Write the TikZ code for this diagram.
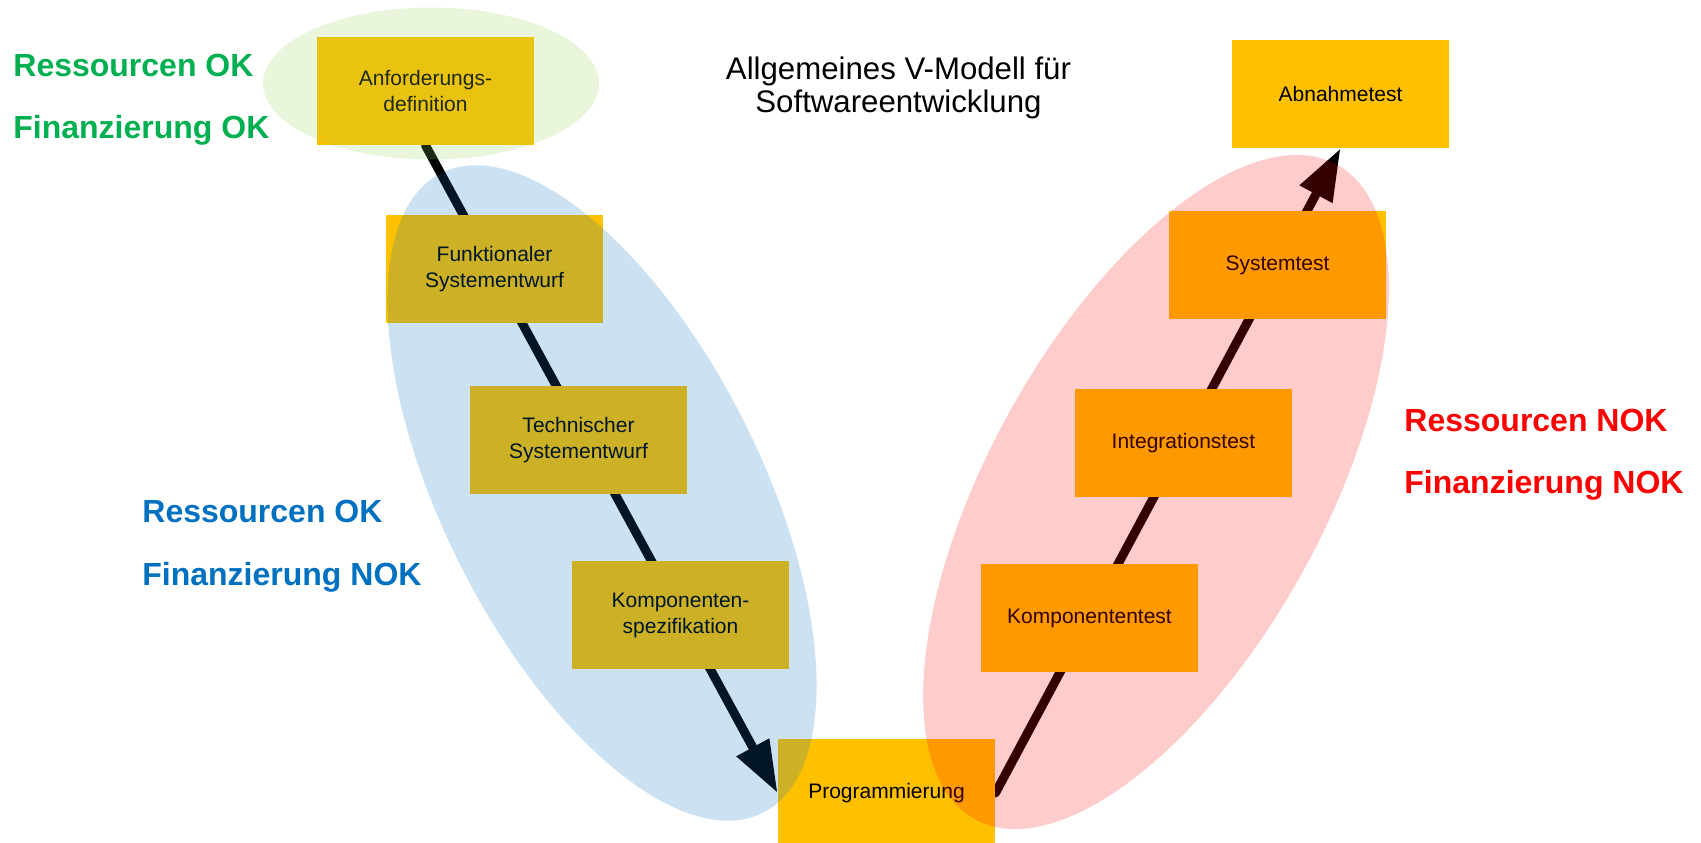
\documentclass[tikz,border=0pt]{standalone}
\usepackage{fontspec}
\setmainfont{Liberation Sans}
\usetikzlibrary{arrows.meta, backgrounds}
\definecolor{vyellow}{HTML}{FFC000}
\definecolor{okgreen}{HTML}{00B050}
\definecolor{okblue}{HTML}{0070C0}
\definecolor{nokred}{HTML}{FF0000}
\definecolor{softgreen}{HTML}{92D050}
\tikzstyle{stage} = [rectangle, 
minimum width=108.5pt, 
minimum height=54pt, 
inner sep=0pt,
align=center, 
font=\fontsize{10.5}{13}\selectfont,
fill=vyellow]
\tikzstyle{status} = [anchor=base west, 
inner sep=0pt, 
font=\fontsize{16}{19}\selectfont\bfseries]
\tikzstyle{group} = [fill opacity=0.2]
\tikzstyle{arrow} = [line width=4.5pt, line cap=round, -{Triangle[length=26pt, width=17.5pt]}]
\begin{document}
\begin{tikzpicture}[x=0.5pt, y=-0.5pt, node distance=87.5pt]
  \useasboundingbox (0,0) rectangle (1701,842);
  \node (title) [align=center, font=\fontsize{15.6}{16.5}\selectfont] at (898.5,87.5) {Allgemeines V-Modell für\\Softwareentwicklung};
  % left branch
  \node (anf) [stage] at (425.5,91) {Anforderungs-\\definition};
  \node (funk) [stage, below of=anf, xshift=34.5pt, yshift=-1.5pt] {Funktionaler\\Systementwurf};
  \node (tech) [stage, below of=funk, xshift=42pt, yshift=2pt] {Technischer\\Systementwurf};
  \node (kspez) [stage, below of=tech, xshift=51pt] {Komponenten-\\spezifikation};
  \node (prog) [stage, below of=kspez, xshift=103pt, yshift=-1.5pt] {Programmierung};
  % right branch
  \node (ktest) [stage, above of=prog, xshift=101.5pt] {Komponententest};
  \node (integ) [stage, above of=ktest, xshift=47pt] {Integrationstest};
  \node (sys) [stage, above of=integ, xshift=47pt, yshift=1.5pt] {Systemtest};
  \node (abn) [stage, above of=sys, xshift=31.5pt, yshift=-2pt] {Abnahmetest};

  \begin{scope}[on background layer]
    \draw [arrow] (anf.south) -- (prog.west);
    \draw [arrow] (prog.east) -- (abn.south);
  \end{scope}

  % groups
  \fill [group, fill=softgreen] (431,83.5) ellipse [x radius=168, y radius=76];
  \fill [group, fill=okblue, rotate around={-63.3:(602,493)}] (602,493) ellipse [x radius=358, y radius=159];
  \fill [group, fill=nokred, rotate around={61:(1156,492)}] (1156,492) ellipse [x radius=374, y radius=167];

  \node (resgreen) [status, text=okgreen] at (13,76) {Ressourcen OK};
  \node (fingreen) [status, text=okgreen] at (13,138) {Finanzierung OK};
  \node (resblue) [status, text=okblue] at (142,522) {Ressourcen OK};
  \node (finblue) [status, text=okblue] at (142,585) {Finanzierung NOK};
  \node (resred) [status, text=nokred] at (1404,431) {Ressourcen NOK};
  \node (finred) [status, text=nokred] at (1404,493) {Finanzierung NOK};
\end{tikzpicture}
\end{document}
